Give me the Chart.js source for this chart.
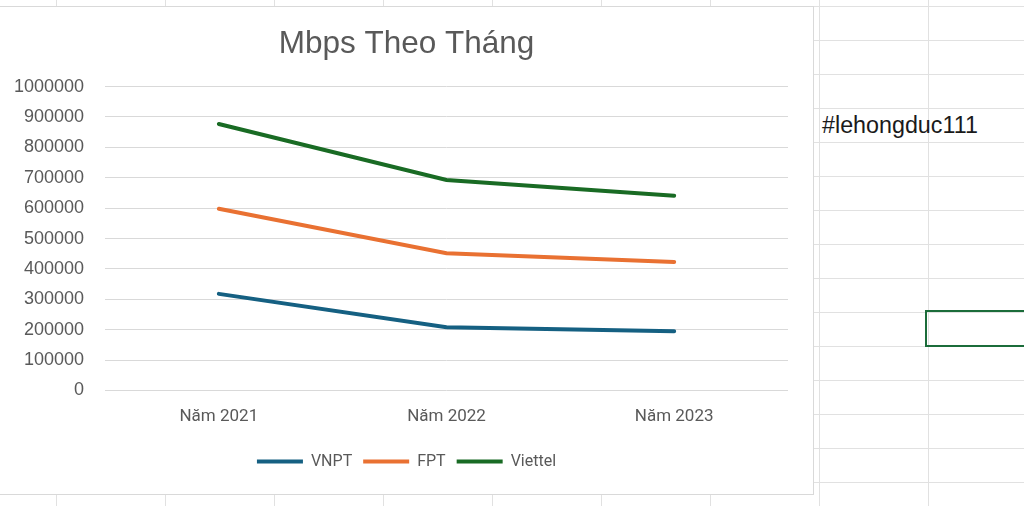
<!DOCTYPE html>
<html>
<head>
<meta charset="utf-8">
<script src="https://cdn.jsdelivr.net/npm/chart.js@4.4.1/dist/chart.umd.min.js"></script>
<style>
    body {
        margin: 0;
        width: 1024px;
        height: 506px;
        overflow: hidden;
        position: relative;
        background-color: #fff;
        background-image: linear-gradient(to right, #e1e1e1 1px, transparent 1px),
                          linear-gradient(to bottom, #e1e1e1 1px, transparent 1px);
        background-size: 109px 34px;
        background-position: 56px 6px;
    }
    #chartBox {
        position: absolute;
        left: -1px;
        top: 6px;
        width: 813px;
        height: 487px;
        border: 1px solid #d9d9d9;
        background: #fff;
    }
    #chart { display: block; }
    #tag {
        position: absolute;
        left: 822px;
        top: 114px;
        font: 23.3px 'Liberation Sans', sans-serif;
        line-height: 23px;
        color: #1a1a1a;
        white-space: nowrap;
    }
    #cell {
        position: absolute;
        left: 925px;
        top: 310px;
        width: 120px;
        height: 33px;
        border: 2px solid #1b6c3a;
    }
</style>
</head>
<body>
<div id="chartBox"><canvas id="chart" width="813" height="487"></canvas></div>
<div id="tag">#lehongduc111</div>
<div id="cell"></div>
<script>
const categories = ['Năm 2021', 'Năm 2022', 'Năm 2023']
const seriesNames = ['VNPT', 'FPT', 'Viettel']
const vnpt = [318000, 208000, 195000]
const fpt = [598000, 452000, 423000]
const viettel = [877000, 693000, 641000]
const yTicks = [0, 100000, 200000, 300000, 400000, 500000, 600000, 700000, 800000, 900000, 1000000]

const colors = ['#156082', '#E97132', '#196B24']
const gray = '#595959'
const narrowFont = "'Liberation Sans Narrow', 'Roboto', sans-serif"

const ctx = document.getElementById('chart')

new Chart(ctx, {
    type: 'line',
    data: {
        labels: categories,
        datasets: [vnpt, fpt, viettel].map((values, i) => ({
            label: seriesNames[i],
            data: values,
            borderColor: colors[i],
            backgroundColor: colors[i],
            borderWidth: 4,
            pointRadius: 0,
            tension: 0,
            borderCapStyle: 'round'
        }))
    },
    options: {
        responsive: false,
        animation: false,
        layout: { padding: { left: 0, right: 0, top: 0, bottom: 14.5 } },
        plugins: {
            tooltip: { enabled: false },
            title: {
                display: true,
                text: 'Mbps Theo Tháng',
                color: gray,
                font: { family: "'Liberation Sans', sans-serif", size: 31.5, weight: 'normal' },
                padding: { top: 18, bottom: 23.8 }
            },
            legend: {
                position: 'bottom',
                labels: {
                    color: gray,
                    font: { family: narrowFont, size: 16 },
                    boxWidth: 46,
                    boxHeight: 4,
                    padding: 11,
                    generateLabels: chart => Chart.defaults.plugins.legend.labels.generateLabels(chart)
                        .map(item => ({ ...item, lineWidth: 0 }))
                }
            }
        },
        scales: {
            x: {
                offset: true,
                grid: { display: false },
                border: { display: false },
                ticks: {
                    color: gray,
                    font: { family: narrowFont, size: 17 },
                    padding: 8,
                    maxRotation: 0
                },
                afterFit: scale => { scale.height = 52 }
            },
            y: {
                min: 0,
                max: 1000000,
                grid: { color: '#d9d9d9', lineWidth: 1, drawTicks: false },
                border: { display: false },
                ticks: {
                    color: gray,
                    font: { family: "'Liberation Sans', sans-serif", size: 18 },
                    padding: 21,
                    callback: v => String(v)
                },
                afterBuildTicks: scale => { scale.ticks = yTicks.map(v => ({ value: v })) },
                afterFit: scale => { scale.width = 105 }
            },
            yRight: {
                position: 'right',
                grid: { display: false },
                border: { display: false },
                ticks: { display: false },
                afterFit: scale => { scale.width = 25 }
            }
        }
    }
})
</script>
</body>
</html>
